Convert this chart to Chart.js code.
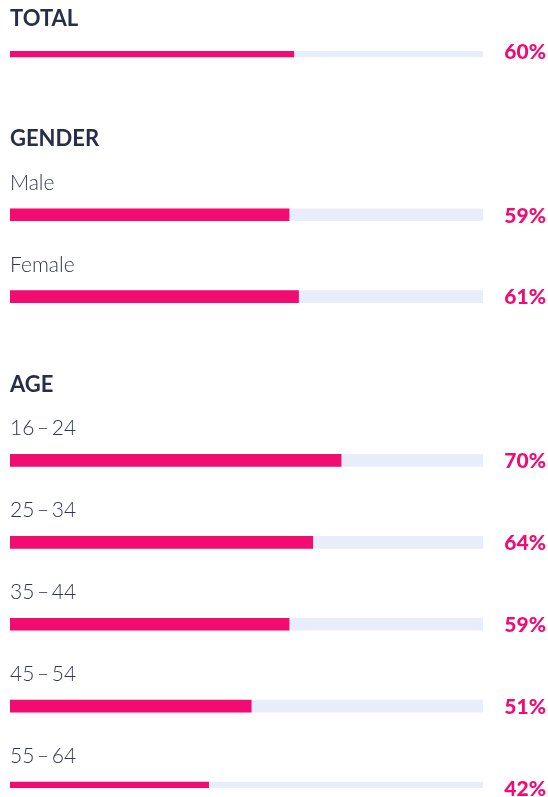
<!DOCTYPE html>
<html>
<head>
<meta charset="utf-8">
<script src="https://cdn.jsdelivr.net/npm/chart.js@4.4.1/dist/chart.umd.min.js"></script>
<style>
  html, body { margin: 0; padding: 0; background: #ffffff; overflow: hidden; }
  #wrap { width: 548px; height: 797px; }
</style>
</head>
<body>
<div id="wrap"><canvas id="c" width="548" height="797"></canvas></div>
<script>
// Rows (empty strings are spacer rows that hold section titles)
const rowLabels = ['TOTAL', '', 'Male', 'Female', '', '16\u2009\u2013\u200924', '25\u2009\u2013\u200934', '35\u2009\u2013\u200944', '45\u2009\u2013\u200954', '55\u2009\u2013\u200964'];
const values    = [60, null, 59, 61, null, 70, 64, 59, 51, 42];
const trackMax  = [100, null, 100, 100, null, 100, 100, 100, 100, 100];
const sectionTitles = ['', 'GENDER', '', '', 'AGE', '', '', '', '', ''];
const headingRows = [0]; // rows whose label is drawn as a heading

const PINK = '#f20c72';
const TRACK = '#e8eef9';
const DARK = '#262e4a';
const LABEL = '#2e3650';

const labelPlugin = {
  id: 'rowText',
  afterDatasetsDraw(chart) {
    const ctx = chart.ctx;
    const ys = chart.scales.y;
    const area = chart.chartArea;
    ctx.save();
    rowLabels.forEach((lab, i) => {
      const cy = ys.getPixelForValue(i);
      ctx.textAlign = 'left';
      ctx.textBaseline = 'alphabetic';
      if (lab) {
        if (headingRows.includes(i)) {
          ctx.font = 'bold 22px Lato';
          ctx.fillStyle = DARK;
        } else {
          ctx.font = '300 21px Lato';
          ctx.fillStyle = LABEL;
        }
        ctx.fillText(lab, area.left, cy - 25);
      }
      if (sectionTitles[i]) {
        ctx.font = 'bold 22px Lato';
        ctx.fillStyle = DARK;
        ctx.fillText(sectionTitles[i], area.left, cy + 13);
      }
      if (values[i] != null) {
        ctx.font = '900 21px Lato';
        ctx.fillStyle = PINK;
        ctx.textAlign = 'right';
        ctx.textBaseline = 'middle';
        ctx.fillText(values[i] + '%', chart.width - 2, cy + 1);
      }
    });
    ctx.restore();
  }
};

new Chart(document.getElementById('c'), {
  type: 'bar',
  data: {
    labels: rowLabels,
    datasets: [
      { data: values, backgroundColor: PINK, grouped: false, order: 1, barThickness: 12 },
      { data: trackMax, backgroundColor: TRACK, grouped: false, order: 2, barThickness: 12 }
    ]
  },
  options: {
    indexAxis: 'y',
    responsive: false,
    animation: false,
    devicePixelRatio: 1,
    layout: { padding: { left: 10, right: 65, top: 51, bottom: 9 } },
    scales: {
      x: { min: 0, max: 100, display: false },
      y: { type: 'category', offset: false, display: false }
    },
    plugins: { legend: { display: false }, tooltip: { enabled: false } }
  },
  plugins: [labelPlugin]
});
</script>
</body>
</html>
